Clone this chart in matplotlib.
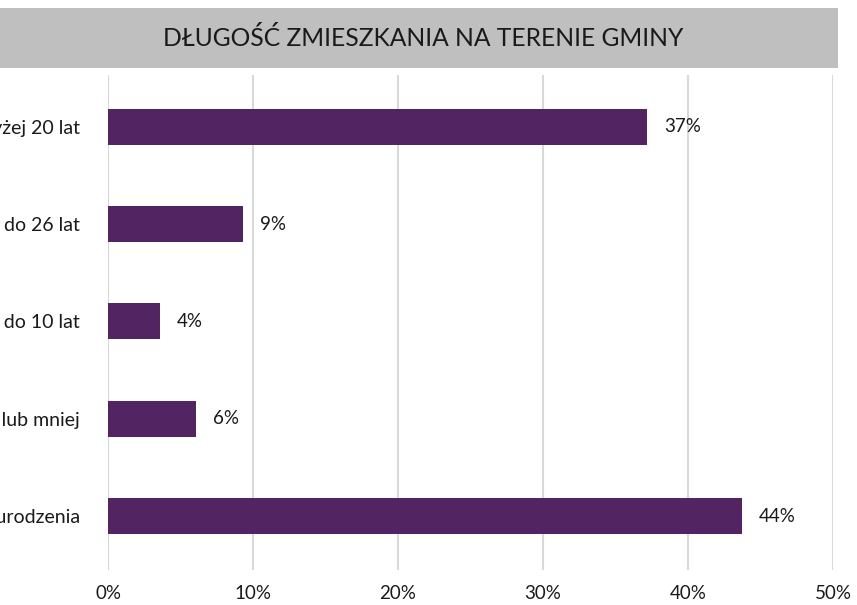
import matplotlib
matplotlib.use("Agg")
import matplotlib.pyplot as plt
from matplotlib.patches import Rectangle

categories = ["Od urodzenia", "5 lat lub mniej", "Od 6 do 10 lat", "Od 11 do 26 lat", "Powyżej 20 lat"]
values = [43.7, 6.1, 3.6, 9.3, 37.2]
value_labels = ["44%", "6%", "4%", "9%", "37%"]
xticks = [0, 10, 20, 30, 40, 50]
xtick_labels = ["0%", "10%", "20%", "30%", "40%", "50%"]
title = "DŁUGOŚĆ ZMIESZKANIA NA TERENIE GMINY"

plt.rcParams['font.family'] = ['Lato', 'DejaVu Sans']

W, H = 857, 605
fig = plt.figure(figsize=(W / 100, H / 100), dpi=100)
fig.patch.set_facecolor("white")

# title band
fig.patches.append(Rectangle((0, 1 - 68 / H), 838 / W, 60 / H, transform=fig.transFigure,
                             facecolor="#BFBFBF", edgecolor="none", zorder=0))
fig.text(423 / W, 1 - 38 / H, title, ha="center", va="center", fontsize=17.7, color="#1a1a1a")

ax = fig.add_axes([108 / W, 1 - 570 / H, (833 - 108) / W, (570 - 75) / H])
y = list(range(len(categories)))
bars = ax.barh(y, values, height=0.37, color="#532462", zorder=3)
for b, lab in zip(bars, value_labels):
    ax.text(b.get_width() + 1.15, b.get_y() + b.get_height() / 2, lab,
            va="center", ha="left", fontsize=13.5, color="#1a1a1a")

ax.set_xlim(0, 50)
ax.set_ylim(-0.555, 4.534)
ax.set_xticks(xticks)
ax.set_xticklabels(xtick_labels, fontsize=13.5, color="#1a1a1a")
ax.set_yticks(y)
ax.set_yticklabels(categories, fontsize=14, color="#1a1a1a")
ax.tick_params(axis="both", length=0)
ax.tick_params(axis="y", pad=20)
ax.tick_params(axis="x", pad=11)
ax.grid(axis="x", color="#D9D9D9", linewidth=1.5, zorder=0)
for s in ax.spines.values():
    s.set_visible(False)

fig.savefig("out.png", dpi=100)
